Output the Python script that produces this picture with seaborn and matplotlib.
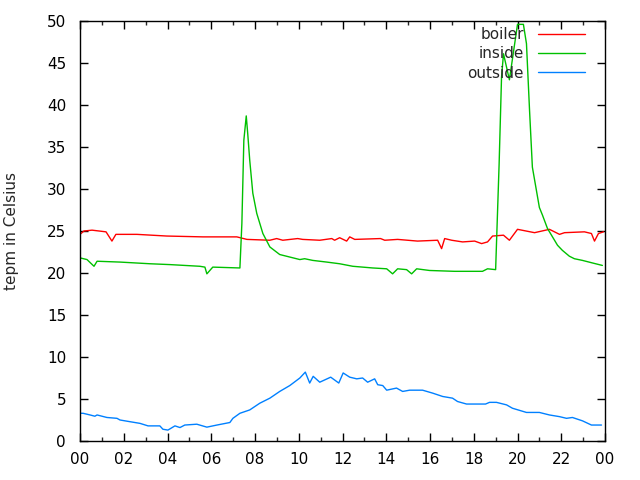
import matplotlib
matplotlib.use("Agg")
import matplotlib.pyplot as plt
from matplotlib.ticker import MultipleLocator
import seaborn as sns
import pandas as pd

# ---- data (hours of day, temperature in Celsius) ----
boiler_time = [0.00, 0.18, 0.55, 1.19, 1.46, 1.64, 2.60, 3.97, 5.62, 7.17, 7.63, 8.68,
               8.99, 9.27, 9.95, 10.18, 10.96, 11.51, 11.64, 11.87, 12.19, 12.33, 12.56,
               13.74, 13.93, 14.52, 15.43, 16.35, 16.53, 16.67, 16.99, 17.49, 18.04,
               18.36, 18.63, 18.86, 19.36, 19.63, 20.00, 20.78, 21.46, 21.69, 21.92,
               22.15, 23.06, 23.38, 23.52, 23.70, 23.93]
boiler_temp = [24.6, 25.0, 25.1, 24.9, 23.8, 24.6, 24.6, 24.4, 24.3, 24.3, 24.0, 23.9,
               24.1, 23.9, 24.1, 24.0, 23.9, 24.1, 23.9, 24.2, 23.8, 24.3, 24.0,
               24.1, 23.9, 24.0, 23.8, 23.9, 22.9, 24.1, 23.9, 23.7, 23.8,
               23.5, 23.7, 24.4, 24.5, 23.9, 25.2, 24.8, 25.2, 24.9, 24.6,
               24.8, 24.9, 24.7, 23.8, 24.7, 24.9]

inside_time = [0.00, 0.32, 0.64, 0.78, 1.83, 3.20, 4.11, 5.48, 5.71, 5.80, 6.07, 7.31,
               7.40, 7.49, 7.60, 7.67, 7.76, 7.90, 8.08, 8.36, 8.68, 9.13, 9.59, 10.05,
               10.27, 10.64, 11.28, 11.87, 12.47, 13.38, 14.02, 14.29, 14.52, 14.93,
               15.16, 15.39, 15.98, 17.12, 18.40, 18.63, 19.00, 19.16, 19.27, 19.36,
               19.63, 20.00, 20.27, 20.41, 20.55, 20.68, 21.00, 21.14, 21.37, 21.60,
               21.83, 22.05, 22.37, 22.60, 22.97, 23.42, 23.88]
inside_temp = [21.8, 21.6, 20.8, 21.4, 21.3, 21.1, 21.0, 20.8, 20.7, 19.9, 20.7, 20.6,
               25.9, 35.8, 38.7, 36.5, 33.4, 29.5, 27.1, 24.7, 23.1, 22.2, 21.9, 21.6,
               21.7, 21.5, 21.3, 21.1, 20.8, 20.6, 20.5, 19.9, 20.5, 20.4,
               19.9, 20.5, 20.3, 20.2, 20.2, 20.5, 20.4, 33.0, 43.3, 46.1,
               43.0, 49.6, 49.6, 47.3, 39.4, 32.6, 27.8, 26.9, 25.3, 24.3,
               23.3, 22.7, 22.0, 21.7, 21.5, 21.2, 20.9]

outside_time = [0.00, 0.14, 0.46, 0.68, 0.78, 1.23, 1.69, 1.83, 2.28, 2.74, 3.11, 3.65,
                3.79, 4.02, 4.34, 4.57, 4.79, 5.34, 5.80, 6.26, 6.85, 6.99, 7.31, 7.76,
                8.22, 8.68, 9.13, 9.59, 10.05, 10.30, 10.50, 10.66, 10.96, 11.46, 11.83,
                12.03, 12.33, 12.65, 12.92, 13.15, 13.47, 13.61, 13.84, 14.02, 14.47,
                14.75, 15.07, 15.66, 16.12, 16.58, 17.03, 17.26, 17.67, 17.95, 18.54,
                18.72, 19.04, 19.50, 19.77, 20.41, 21.00, 21.46, 21.92, 22.24, 22.51,
                22.97, 23.38, 23.84]
outside_temp = [3.3, 3.3, 3.1, 2.95, 3.1, 2.8, 2.7, 2.5, 2.3, 2.1, 1.8, 1.8,
                1.4, 1.3, 1.8, 1.6, 1.9, 2.0, 1.65, 1.9, 2.2, 2.7, 3.3, 3.7,
                4.5, 5.1, 5.9, 6.6, 7.5, 8.2, 6.9, 7.7, 7.0, 7.6, 6.9,
                8.1, 7.6, 7.4, 7.5, 7.0, 7.4, 6.7, 6.6, 6.05, 6.3,
                5.9, 6.05, 6.05, 5.7, 5.3, 5.1, 4.7, 4.4, 4.4, 4.4,
                4.6, 4.6, 4.3, 3.9, 3.4, 3.4, 3.1, 2.9, 2.7, 2.8,
                2.4, 1.9, 1.9]

series_names = ["boiler", "inside", "outside"]
series_colors = ["#ff0000", "#00c000", "#0080ff"]
x_ticks = list(range(0, 25, 2))
x_tick_labels = ["%02d" % (h % 24) for h in x_ticks]
y_label = "tepm in Celsius"

# ---- style ----
sns.set_style("ticks")
plt.rcParams["font.family"] = ["DejaVu Sans"]
plt.rcParams["font.size"] = 11

fig = plt.figure(figsize=(6.4, 4.8), dpi=100)
ax = fig.add_axes([80 / 640, 1 - 441 / 480, 525 / 640, 420 / 480])

data = [(boiler_time, boiler_temp), (inside_time, inside_temp), (outside_time, outside_temp)]
for (t, v), name, col in zip(data, series_names, series_colors):
    df = pd.DataFrame({"time": t, "temp": v})
    sns.lineplot(data=df, x="time", y="temp", ax=ax, color=col, linewidth=1.0,
                 label=name, sort=False, estimator=None)

ax.set_xlim(0, 24)
ax.set_ylim(0, 50)
ax.set_xticks(x_ticks)
ax.set_xticklabels(x_tick_labels)
ax.xaxis.set_minor_locator(MultipleLocator(1))
ax.yaxis.set_major_locator(MultipleLocator(5))
ax.set_xlabel("")
ax.set_ylabel(y_label, fontsize=11)
ax.yaxis.set_label_coords(-61 / 525, 0.5)

for s in ax.spines.values():
    s.set_visible(True)
    s.set_linewidth(1.0)
    s.set_color("black")

ax.tick_params(which="major", direction="in", length=6, width=1, top=True, right=True,
               labelsize=11, colors="black")
ax.tick_params(which="minor", direction="in", length=3, width=1, top=True, right=True)
ax.tick_params(axis="x", which="major", pad=8)
ax.tick_params(axis="y", which="major", pad=10)

leg = ax.legend(loc="upper right", bbox_to_anchor=(1 - 20 / 525, 1 - 6 / 420),
                frameon=False, markerfirst=False, handlelength=3.1, handletextpad=0.9,
                labelspacing=0.28, borderpad=0, borderaxespad=0, fontsize=11)

fig.savefig("out.png", dpi=100, facecolor="white")
